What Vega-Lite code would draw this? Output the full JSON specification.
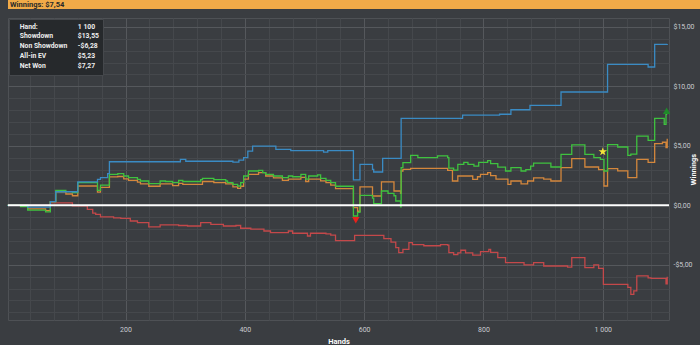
{
  "$schema": "https://vega.github.io/schema/vega-lite/v6.json",
  "background": "#3a3d41",
  "padding": 0,
  "autosize": {"type": "pad"},
  "spacing": 8,
  "resolve": {"scale": {"shape": "independent", "color": "independent"}, "legend": {"shape": "independent", "color": "independent"}},
  "config": {
    "view": {"stroke": null},
    "font": "Roboto",
    "axis": {"labelFont": "Roboto", "titleFont": "Roboto"}
  },
  "datasets": {
    "series": [
      {"s":"Non Showdown","h":2,"v":0},{"s":"Non Showdown","h":74,"v":0.2},{"s":"Non Showdown","h":111,"v":-0.05},{"s":"Non Showdown","h":136,"v":-0.35},{"s":"Non Showdown","h":145,"v":-0.65},{"s":"Non Showdown","h":150,"v":-0.76},{"s":"Non Showdown","h":158,"v":-0.98},{"s":"Non Showdown","h":180,"v":-1.05},{"s":"Non Showdown","h":192,"v":-1.1},{"s":"Non Showdown","h":208,"v":-1.32},{"s":"Non Showdown","h":220,"v":-1.46},{"s":"Non Showdown","h":239,"v":-1.82},{"s":"Non Showdown","h":258,"v":-1.65},{"s":"Non Showdown","h":289,"v":-1.7},{"s":"Non Showdown","h":304,"v":-1.74},{"s":"Non Showdown","h":326,"v":-1.46},{"s":"Non Showdown","h":343,"v":-1.6},{"s":"Non Showdown","h":364,"v":-1.74},{"s":"Non Showdown","h":385,"v":-1.7},{"s":"Non Showdown","h":393,"v":-1.93},{"s":"Non Showdown","h":410,"v":-2.0},{"s":"Non Showdown","h":432,"v":-2.16},{"s":"Non Showdown","h":443,"v":-2.3},{"s":"Non Showdown","h":473,"v":-2.16},{"s":"Non Showdown","h":480,"v":-2.35},{"s":"Non Showdown","h":505,"v":-2.58},{"s":"Non Showdown","h":510,"v":-2.35},{"s":"Non Showdown","h":536,"v":-2.4},{"s":"Non Showdown","h":544,"v":-2.5},{"s":"Non Showdown","h":552,"v":-2.97},{"s":"Non Showdown","h":584,"v":-2.52},{"s":"Non Showdown","h":633,"v":-2.8},{"s":"Non Showdown","h":645,"v":-3.1},{"s":"Non Showdown","h":653,"v":-3.56},{"s":"Non Showdown","h":658,"v":-3.98},{"s":"Non Showdown","h":665,"v":-3.7},{"s":"Non Showdown","h":675,"v":-3.14},{"s":"Non Showdown","h":681,"v":-3.3},{"s":"Non Showdown","h":700,"v":-3.4},{"s":"Non Showdown","h":728,"v":-3.3},{"s":"Non Showdown","h":740,"v":-3.34},{"s":"Non Showdown","h":742,"v":-3.98},{"s":"Non Showdown","h":750,"v":-4.15},{"s":"Non Showdown","h":757,"v":-4.0},{"s":"Non Showdown","h":762,"v":-3.78},{"s":"Non Showdown","h":770,"v":-4.0},{"s":"Non Showdown","h":782,"v":-4.18},{"s":"Non Showdown","h":795,"v":-3.9},{"s":"Non Showdown","h":809,"v":-3.7},{"s":"Non Showdown","h":812,"v":-3.95},{"s":"Non Showdown","h":824,"v":-4.4},{"s":"Non Showdown","h":837,"v":-4.82},{"s":"Non Showdown","h":868,"v":-5.0},{"s":"Non Showdown","h":884,"v":-4.82},{"s":"Non Showdown","h":901,"v":-5.1},{"s":"Non Showdown","h":941,"v":-5.2},{"s":"Non Showdown","h":948,"v":-4.4},{"s":"Non Showdown","h":970,"v":-5.24},{"s":"Non Showdown","h":985,"v":-5.0},{"s":"Non Showdown","h":993,"v":-5.3},{"s":"Non Showdown","h":1001,"v":-6.64},{"s":"Non Showdown","h":1042,"v":-6.9},{"s":"Non Showdown","h":1047,"v":-7.48},{"s":"Non Showdown","h":1052,"v":-7.2},{"s":"Non Showdown","h":1057,"v":-5.94},{"s":"Non Showdown","h":1076,"v":-6.1},{"s":"Non Showdown","h":1081,"v":-6.15},{"s":"Non Showdown","h":1106,"v":-6.6},{"s":"Non Showdown","h":1108,"v":-6.0},

      {"s":"All-in EV","h":2,"v":0},{"s":"All-in EV","h":36,"v":-0.3},{"s":"All-in EV","h":66,"v":-0.45},{"s":"All-in EV","h":74,"v":0.3},{"s":"All-in EV","h":83,"v":1.14},{"s":"All-in EV","h":100,"v":0.95},{"s":"All-in EV","h":111,"v":0.8},{"s":"All-in EV","h":120,"v":1.62},{"s":"All-in EV","h":153,"v":1.1},{"s":"All-in EV","h":158,"v":1.5},{"s":"All-in EV","h":173,"v":2.38},{"s":"All-in EV","h":187,"v":2.42},{"s":"All-in EV","h":197,"v":2.22},{"s":"All-in EV","h":205,"v":2.1},{"s":"All-in EV","h":220,"v":1.95},{"s":"All-in EV","h":225,"v":1.8},{"s":"All-in EV","h":239,"v":1.6},{"s":"All-in EV","h":258,"v":1.8},{"s":"All-in EV","h":279,"v":1.65},{"s":"All-in EV","h":289,"v":1.85},{"s":"All-in EV","h":296,"v":1.75},{"s":"All-in EV","h":329,"v":2.0},{"s":"All-in EV","h":348,"v":1.9},{"s":"All-in EV","h":368,"v":1.8},{"s":"All-in EV","h":380,"v":1.55},{"s":"All-in EV","h":388,"v":1.43},{"s":"All-in EV","h":393,"v":1.6},{"s":"All-in EV","h":398,"v":2.2},{"s":"All-in EV","h":406,"v":2.6},{"s":"All-in EV","h":423,"v":2.74},{"s":"All-in EV","h":435,"v":2.46},{"s":"All-in EV","h":448,"v":2.3},{"s":"All-in EV","h":463,"v":2.1},{"s":"All-in EV","h":473,"v":2.2},{"s":"All-in EV","h":494,"v":2.35},{"s":"All-in EV","h":502,"v":2.0},{"s":"All-in EV","h":507,"v":2.2},{"s":"All-in EV","h":527,"v":2.05},{"s":"All-in EV","h":536,"v":1.9},{"s":"All-in EV","h":544,"v":1.7},{"s":"All-in EV","h":552,"v":1.4},{"s":"All-in EV","h":582,"v":-0.2},{"s":"All-in EV","h":589,"v":-0.5},{"s":"All-in EV","h":593,"v":1.54},{"s":"All-in EV","h":614,"v":0.78},{"s":"All-in EV","h":629,"v":1.96},{"s":"All-in EV","h":650,"v":1.2},{"s":"All-in EV","h":661,"v":1.0},{"s":"All-in EV","h":662,"v":2.88},{"s":"All-in EV","h":665,"v":3.02},{"s":"All-in EV","h":678,"v":3.1},{"s":"All-in EV","h":740,"v":2.94},{"s":"All-in EV","h":748,"v":2.04},{"s":"All-in EV","h":757,"v":2.46},{"s":"All-in EV","h":782,"v":2.18},{"s":"All-in EV","h":790,"v":2.4},{"s":"All-in EV","h":795,"v":2.6},{"s":"All-in EV","h":807,"v":2.74},{"s":"All-in EV","h":812,"v":2.5},{"s":"All-in EV","h":821,"v":2.2},{"s":"All-in EV","h":841,"v":1.76},{"s":"All-in EV","h":846,"v":2.04},{"s":"All-in EV","h":863,"v":1.8},{"s":"All-in EV","h":874,"v":2.04},{"s":"All-in EV","h":884,"v":2.3},{"s":"All-in EV","h":901,"v":2.2},{"s":"All-in EV","h":913,"v":2.04},{"s":"All-in EV","h":930,"v":3.16},{"s":"All-in EV","h":948,"v":3.92},{"s":"All-in EV","h":970,"v":3.22},{"s":"All-in EV","h":993,"v":3.0},{"s":"All-in EV","h":1002,"v":1.62},{"s":"All-in EV","h":1008,"v":3.08},{"s":"All-in EV","h":1025,"v":2.9},{"s":"All-in EV","h":1042,"v":2.32},{"s":"All-in EV","h":1057,"v":3.86},{"s":"All-in EV","h":1076,"v":3.6},{"s":"All-in EV","h":1087,"v":5.18},{"s":"All-in EV","h":1100,"v":5.3},{"s":"All-in EV","h":1106,"v":4.84},{"s":"All-in EV","h":1108,"v":5.6},

      {"s":"Net Won","h":2,"v":0},{"s":"Net Won","h":24,"v":-0.1},{"s":"Net Won","h":36,"v":-0.4},{"s":"Net Won","h":66,"v":-0.55},{"s":"Net Won","h":74,"v":0.3},{"s":"Net Won","h":83,"v":1.26},{"s":"Net Won","h":100,"v":1.15},{"s":"Net Won","h":111,"v":1.06},{"s":"Net Won","h":120,"v":1.9},{"s":"Net Won","h":153,"v":1.26},{"s":"Net Won","h":158,"v":1.7},{"s":"Net Won","h":173,"v":2.6},{"s":"Net Won","h":187,"v":2.66},{"s":"Net Won","h":197,"v":2.46},{"s":"Net Won","h":205,"v":2.32},{"s":"Net Won","h":220,"v":2.18},{"s":"Net Won","h":225,"v":2.04},{"s":"Net Won","h":239,"v":1.82},{"s":"Net Won","h":258,"v":2.04},{"s":"Net Won","h":267,"v":2.0},{"s":"Net Won","h":279,"v":1.9},{"s":"Net Won","h":289,"v":2.1},{"s":"Net Won","h":296,"v":2.0},{"s":"Net Won","h":326,"v":2.15},{"s":"Net Won","h":329,"v":2.27},{"s":"Net Won","h":348,"v":2.15},{"s":"Net Won","h":368,"v":2.04},{"s":"Net Won","h":371,"v":1.9},{"s":"Net Won","h":380,"v":1.76},{"s":"Net Won","h":388,"v":1.62},{"s":"Net Won","h":393,"v":1.9},{"s":"Net Won","h":398,"v":2.46},{"s":"Net Won","h":406,"v":2.88},{"s":"Net Won","h":423,"v":2.94},{"s":"Net Won","h":430,"v":2.74},{"s":"Net Won","h":435,"v":2.6},{"s":"Net Won","h":448,"v":2.46},{"s":"Net Won","h":463,"v":2.32},{"s":"Net Won","h":473,"v":2.46},{"s":"Net Won","h":480,"v":2.4},{"s":"Net Won","h":494,"v":2.6},{"s":"Net Won","h":502,"v":2.2},{"s":"Net Won","h":507,"v":2.46},{"s":"Net Won","h":522,"v":2.55},{"s":"Net Won","h":527,"v":2.27},{"s":"Net Won","h":536,"v":2.1},{"s":"Net Won","h":544,"v":1.9},{"s":"Net Won","h":552,"v":1.6},{"s":"Net Won","h":582,"v":-0.9},{"s":"Net Won","h":589,"v":-0.6},{"s":"Net Won","h":593,"v":0.84},{"s":"Net Won","h":614,"v":0.6},{"s":"Net Won","h":616,"v":0.14},{"s":"Net Won","h":629,"v":1.2},{"s":"Net Won","h":640,"v":1.0},{"s":"Net Won","h":650,"v":0.8},{"s":"Net Won","h":653,"v":0.36},{"s":"Net Won","h":661,"v":-0.14},{"s":"Net Won","h":662,"v":3.16},{"s":"Net Won","h":665,"v":3.58},{"s":"Net Won","h":678,"v":4.2},{"s":"Net Won","h":690,"v":4.0},{"s":"Net Won","h":723,"v":4.15},{"s":"Net Won","h":740,"v":4.0},{"s":"Net Won","h":742,"v":3.13},{"s":"Net Won","h":750,"v":2.95},{"s":"Net Won","h":757,"v":3.44},{"s":"Net Won","h":767,"v":3.6},{"s":"Net Won","h":774,"v":3.44},{"s":"Net Won","h":784,"v":3.3},{"s":"Net Won","h":792,"v":3.6},{"s":"Net Won","h":807,"v":3.75},{"s":"Net Won","h":812,"v":3.5},{"s":"Net Won","h":824,"v":3.2},{"s":"Net Won","h":837,"v":2.88},{"s":"Net Won","h":846,"v":3.16},{"s":"Net Won","h":863,"v":2.88},{"s":"Net Won","h":871,"v":3.0},{"s":"Net Won","h":879,"v":3.3},{"s":"Net Won","h":884,"v":3.55},{"s":"Net Won","h":913,"v":3.22},{"s":"Net Won","h":930,"v":4.28},{"s":"Net Won","h":948,"v":5.07},{"s":"Net Won","h":970,"v":4.28},{"s":"Net Won","h":985,"v":4.0},{"s":"Net Won","h":996,"v":3.86},{"s":"Net Won","h":1002,"v":2.88},{"s":"Net Won","h":1008,"v":5.1},{"s":"Net Won","h":1025,"v":4.9},{"s":"Net Won","h":1042,"v":4.2},{"s":"Net Won","h":1047,"v":4.3},{"s":"Net Won","h":1057,"v":5.82},{"s":"Net Won","h":1076,"v":5.46},{"s":"Net Won","h":1087,"v":7.31},{"s":"Net Won","h":1103,"v":6.8},{"s":"Net Won","h":1106,"v":7.65},{"s":"Net Won","h":1108,"v":7.65},

      {"s":"Showdown","h":2,"v":0},{"s":"Showdown","h":36,"v":-0.15},{"s":"Showdown","h":74,"v":0.3},{"s":"Showdown","h":83,"v":1.14},{"s":"Showdown","h":120,"v":1.96},{"s":"Showdown","h":153,"v":2.18},{"s":"Showdown","h":158,"v":2.32},{"s":"Showdown","h":170,"v":2.66},{"s":"Showdown","h":173,"v":3.66},{"s":"Showdown","h":292,"v":3.86},{"s":"Showdown","h":301,"v":3.7},{"s":"Showdown","h":380,"v":3.62},{"s":"Showdown","h":390,"v":3.8},{"s":"Showdown","h":398,"v":4.0},{"s":"Showdown","h":405,"v":4.56},{"s":"Showdown","h":413,"v":4.97},{"s":"Showdown","h":452,"v":4.7},{"s":"Showdown","h":477,"v":4.6},{"s":"Showdown","h":532,"v":4.46},{"s":"Showdown","h":539,"v":4.6},{"s":"Showdown","h":582,"v":2.13},{"s":"Showdown","h":593,"v":3.44},{"s":"Showdown","h":614,"v":3.02},{"s":"Showdown","h":616,"v":2.8},{"s":"Showdown","h":631,"v":3.95},{"s":"Showdown","h":662,"v":7.31},{"s":"Showdown","h":765,"v":7.58},{"s":"Showdown","h":827,"v":7.65},{"s":"Showdown","h":846,"v":8.03},{"s":"Showdown","h":878,"v":8.4},{"s":"Showdown","h":930,"v":9.52},{"s":"Showdown","h":1008,"v":11.84},{"s":"Showdown","h":1076,"v":11.62},{"s":"Showdown","h":1087,"v":13.53},{"s":"Showdown","h":1108,"v":13.55}
    ],
    "info": [
      {"k":"Hand:"},{"k":"1 100"},{"k":"Showdown"},{"k":"$13,55"},{"k":"Non Showdown"},{"k":"-$6,28"},{"k":"All-in EV"},{"k":"$5,23"},{"k":"Net Won"},{"k":"$7,27"}
    ]
  },
  "vconcat": [
    {
      "width": 700,
      "height": 9,
      "view": {"fill": "#f1aa48", "stroke": null},
      "data": {"values": [{"label": "Winnings: $7,54"}]},
      "mark": {"type": "text", "align": "left", "baseline": "middle", "dx": 2, "dy": 0, "fontSize": 7.5, "fontWeight": "bold", "font": "Roboto", "color": "#2a2a2a"},
      "encoding": {
        "text": {"field": "label", "type": "nominal"},
        "x": {"datum": 0, "type": "quantitative", "scale": {"domain": [0, 1]}, "axis": null}
      }
    },
    {
      "width": 661,
      "height": 302,
      "view": {"fill": "#3a3d41", "stroke": "#4e5155"},
      "resolve": {"axis": {"x": "independent", "y": "independent"}},
      "layer": [
        {
          "data": {"name": "series"},
          "mark": {"type": "line", "interpolate": "step-after", "strokeWidth": 1.3},
          "encoding": {
            "x": {
              "field": "h", "type": "quantitative",
              "scale": {"domain": [3, 1111], "nice": false, "zero": false},
              "axis": {
                "values": [40,80,120,160,200,240,280,320,360,400,440,480,520,560,600,640,680,720,760,800,840,880,920,960,1000,1040,1080],
                "labelExpr": "datum.value % 200 === 0 ? replace(format(datum.value, ','), ',', ' ') : ''",
                "gridColor": {"condition": {"test": "datum.value % 200 === 0", "value": "#55585c"}, "value": "#45484c"},
                "ticks": false, "domain": false,
                "labelColor": "#c9cbd0", "labelFontSize": 7, "labelPadding": 5,
                "title": "Hands", "titleColor": "#ffffff", "titleFontSize": 7.5, "titleFontWeight": "bold", "titlePadding": 5
              }
            },
            "y": {
              "field": "v", "type": "quantitative",
              "scale": {"domain": [-9.64, 15.74], "nice": false, "zero": false},
              "axis": {
                "orient": "right",
                "values": [-9,-8,-7,-6,-5,-4,-3,-2,-1,0,1,2,3,4,5,6,7,8,9,10,11,12,13,14,15],
                "labelExpr": "datum.value % 5 === 0 ? (datum.value < 0 ? '-$' : '$') + abs(datum.value) + ',00' : ''",
                "gridColor": {"condition": {"test": "datum.value % 5 === 0", "value": "#55585c"}, "value": "#45484c"},
                "ticks": false, "domain": false,
                "labelColor": "#c9cbd0", "labelFontSize": 7, "labelPadding": 4,
                "title": "Winnings", "titleColor": "#ffffff", "titleFontSize": 7.5, "titleFontWeight": "bold", "titlePadding": 3, "titleAngle": 270
              }
            },
            "color": {
              "field": "s", "type": "nominal",
              "scale": {"domain": ["Non Showdown", "All-in EV", "Net Won", "Showdown"], "range": ["#c4484a", "#d4873c", "#3fc23f", "#3a8bc4"]},
              "legend": null
            }
          }
        },
        {
          "data": {"values": [{}]},
          "mark": {"type": "rule", "color": "#ffffff", "strokeWidth": 2},
          "encoding": {
            "y": {
              "datum": 0, "type": "quantitative",
              "axis": {"orient": "left", "labels": false, "domain": false, "grid": false, "ticks": true, "tickSize": 7, "tickOpacity": 0, "title": null, "minExtent": 7, "maxExtent": 7}
            }
          }
        },
        {
          "data": {"values": [{"h": 1000, "v": 4.5}]},
          "mark": {"type": "point", "filled": true, "shape": "M0,-1L0.2245,-0.309L0.951,-0.309L0.363,0.118L0.588,0.809L0,0.382L-0.588,0.809L-0.363,0.118L-0.951,-0.309L-0.2245,-0.309Z", "size": 80, "color": "#f4e43a", "opacity": 1},
          "encoding": {
            "x": {"field": "h", "type": "quantitative", "axis": null},
            "y": {"field": "v", "type": "quantitative", "axis": null}
          }
        },
        {
          "data": {"values": [{"h": 586, "v": -1.25}]},
          "mark": {"type": "point", "filled": true, "shape": "triangle-down", "size": 55, "color": "#e8221c", "opacity": 1},
          "encoding": {
            "x": {"field": "h", "type": "quantitative", "axis": null},
            "y": {"field": "v", "type": "quantitative", "axis": null}
          }
        },
        {
          "data": {"values": [{"h": 1107, "v": 7.95}]},
          "mark": {"type": "point", "filled": true, "shape": "triangle-up", "size": 55, "color": "#1f8a2a", "opacity": 1},
          "encoding": {
            "x": {"field": "h", "type": "quantitative", "axis": null},
            "y": {"field": "v", "type": "quantitative", "axis": null}
          }
        },
        {
          "data": {"name": "info"},
          "mark": {"type": "point", "opacity": 0},
          "encoding": {
            "shape": {
              "field": "k", "type": "nominal",
              "scale": {"domain": ["Hand:", "1 100", "Showdown", "$13,55", "Non Showdown", "-$6,28", "All-in EV", "$5,23", "Net Won", "$7,27"], "range": ["circle"]},
              "legend": {
                "orient": "top-left", "offset": 1, "columns": 2, "direction": "horizontal", "title": null,
                "fillColor": "#26292c", "strokeColor": "#45484c", "padding": 4,
                "labelColor": "#eeeeee", "labelFont": "Roboto", "labelFontSize": 6.8, "labelFontWeight": "bold",
                "symbolSize": 0, "symbolOpacity": 0, "symbolStrokeWidth": 0, "labelOffset": 0,
                "rowPadding": 2, "columnPadding": 3, "gridAlign": "each", "labelLimit": 120
              }
            }
          }
        }
      ]
    }
  ]
}
